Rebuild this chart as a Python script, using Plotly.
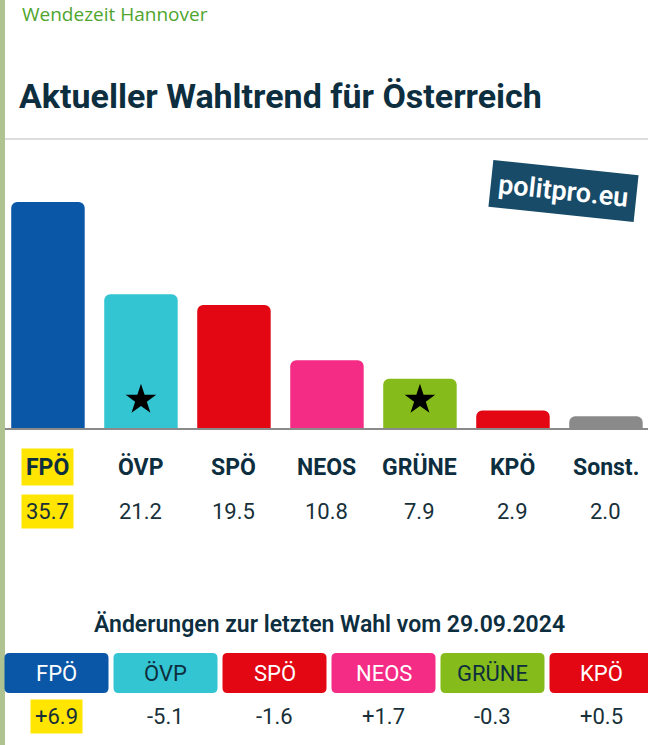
import plotly.graph_objects as go

# Wahltrend data
parties = ["FPÖ", "ÖVP", "SPÖ", "NEOS", "GRÜNE", "KPÖ", "Sonst."]
values = [35.7, 21.2, 19.5, 10.8, 7.9, 2.9, 2.0]
bar_colors = ["#0a57a8", "#34c5d3", "#e30613", "#f52c86", "#85bb1a", "#e30613", "#8a8a8a"]
coalition = [False, True, False, False, True, False, False]

# changes since last election
change_parties = ["FPÖ", "ÖVP", "SPÖ", "NEOS", "GRÜNE", "KPÖ"]
changes = ["+6.9", "-5.1", "-1.6", "+1.7", "-0.3", "+0.5"]
change_colors = ["#0a57a8", "#34c5d3", "#e30613", "#f52c86", "#85bb1a", "#e30613"]
change_text_colors = ["white", "#0d2e3e", "white", "white", "#0d2e3e", "white"]

W, H = 648, 745
DARK = "#0d2e3e"
FONT = "Roboto"
YELLOW = "#ffe500"


def px(x):
    return x / W


def py(y):
    return 1 - y / H


xs = list(range(len(parties)))

fig = go.Figure()
fig.add_trace(go.Bar(x=xs, y=values, marker=dict(color=bar_colors, cornerradius=6, line_width=0),
                     width=0.79, hoverinfo="skip"))
star_x = [x for x, c in zip(xs, coalition) if c]
fig.add_trace(go.Scatter(x=star_x, y=[4.6] * len(star_x), mode="markers",
                         marker=dict(symbol="star", size=23, color="black"), hoverinfo="skip"))

annotations = [
    dict(text="Wendezeit Hannover", x=px(20), y=py(14), xanchor="left", yanchor="middle",
         font=dict(family="Open Sans", size=19, color="#4fa52e")),
    dict(text="<b>Aktueller Wahltrend für Österreich</b>", x=px(17), y=py(96), xanchor="left",
         yanchor="middle", font=dict(family=FONT, size=34, color=DARK)),
    dict(text="politpro.eu", x=px(563), y=py(191), xanchor="center", yanchor="middle",
         textangle=6, bgcolor="#174b68", borderpad=7,
         font=dict(family=FONT, size=27, color="white", weight=600)),
    dict(text="Änderungen zur letzten Wahl vom 29.09.2024", x=px(329), y=py(624),
         xanchor="center", yanchor="middle", font=dict(family=FONT, size=23, color=DARK, weight=600)),
]

for i, (p, v) in enumerate(zip(parties, values)):
    hl = YELLOW if i == 0 else None
    annotations.append(dict(text="<b>%s</b>" % p, x=i, xref="x", y=py(467), xanchor="center",
                            yanchor="middle", bgcolor=hl, borderpad=4,
                            font=dict(family=FONT, size=23, color=DARK)))
    annotations.append(dict(text="%.1f" % v, x=i, xref="x", y=py(511), xanchor="center",
                            yanchor="middle", bgcolor=hl, borderpad=4,
                            font=dict(family=FONT, size=22, color="#17303a")))

shapes = [
    dict(type="rect", x0=0, x1=px(5), y0=0, y1=1, fillcolor="#aec292", line_width=0),
    dict(type="line", x0=px(5), x1=1, y0=py(139), y1=py(139), line=dict(color="#dddddd", width=2)),
    dict(type="line", x0=px(5), x1=1, y0=py(429), y1=py(429), line=dict(color="#8a8a8a", width=2)),
]

for i, (p, c) in enumerate(zip(change_parties, changes)):
    cx = 56.5 + i * 109
    x0, x1, y0, y1 = cx - 52, cx + 52, 653, 693
    r = 5
    path = ("M %f,%f L %f,%f Q %f,%f %f,%f L %f,%f Q %f,%f %f,%f L %f,%f Q %f,%f %f,%f "
            "L %f,%f Q %f,%f %f,%f Z") % (
        px(x0 + r), py(y0), px(x1 - r), py(y0), px(x1), py(y0), px(x1), py(y0 + r),
        px(x1), py(y1 - r), px(x1), py(y1), px(x1 - r), py(y1),
        px(x0 + r), py(y1), px(x0), py(y1), px(x0), py(y1 - r),
        px(x0), py(y0 + r), px(x0), py(y0), px(x0 + r), py(y0))
    shapes.append(dict(type="path", path=path, fillcolor=change_colors[i], line_width=0))
    annotations.append(dict(text=p, x=px(cx), y=py(673), xanchor="center", yanchor="middle",
                            font=dict(family=FONT, size=22, color=change_text_colors[i])))
    annotations.append(dict(text=c, x=px(cx), y=py(716), xanchor="center", yanchor="middle",
                            bgcolor=YELLOW if i == 0 else None, borderpad=4,
                            font=dict(family=FONT, size=22, color="#17303a")))

for a in annotations:
    a.setdefault("xref", "paper")
    a.setdefault("yref", "paper")
    a["showarrow"] = False

for s in shapes:
    s["xref"] = "paper"
    s["yref"] = "paper"

fig.update_layout(
    width=W, height=H, margin=dict(l=0, r=0, t=0, b=0),
    paper_bgcolor="white", plot_bgcolor="white", showlegend=False,
    xaxis=dict(domain=[px(5), 1], range=[-0.462, 6.452], visible=False, fixedrange=True),
    yaxis=dict(domain=[py(429), py(150)], range=[0, (429 - 150) / 6.36], visible=False, fixedrange=True),
    annotations=annotations, shapes=shapes,
)

fig.write_html("out.html", config={"displayModeBar": False},
               post_script="document.body.style.margin='0';")
